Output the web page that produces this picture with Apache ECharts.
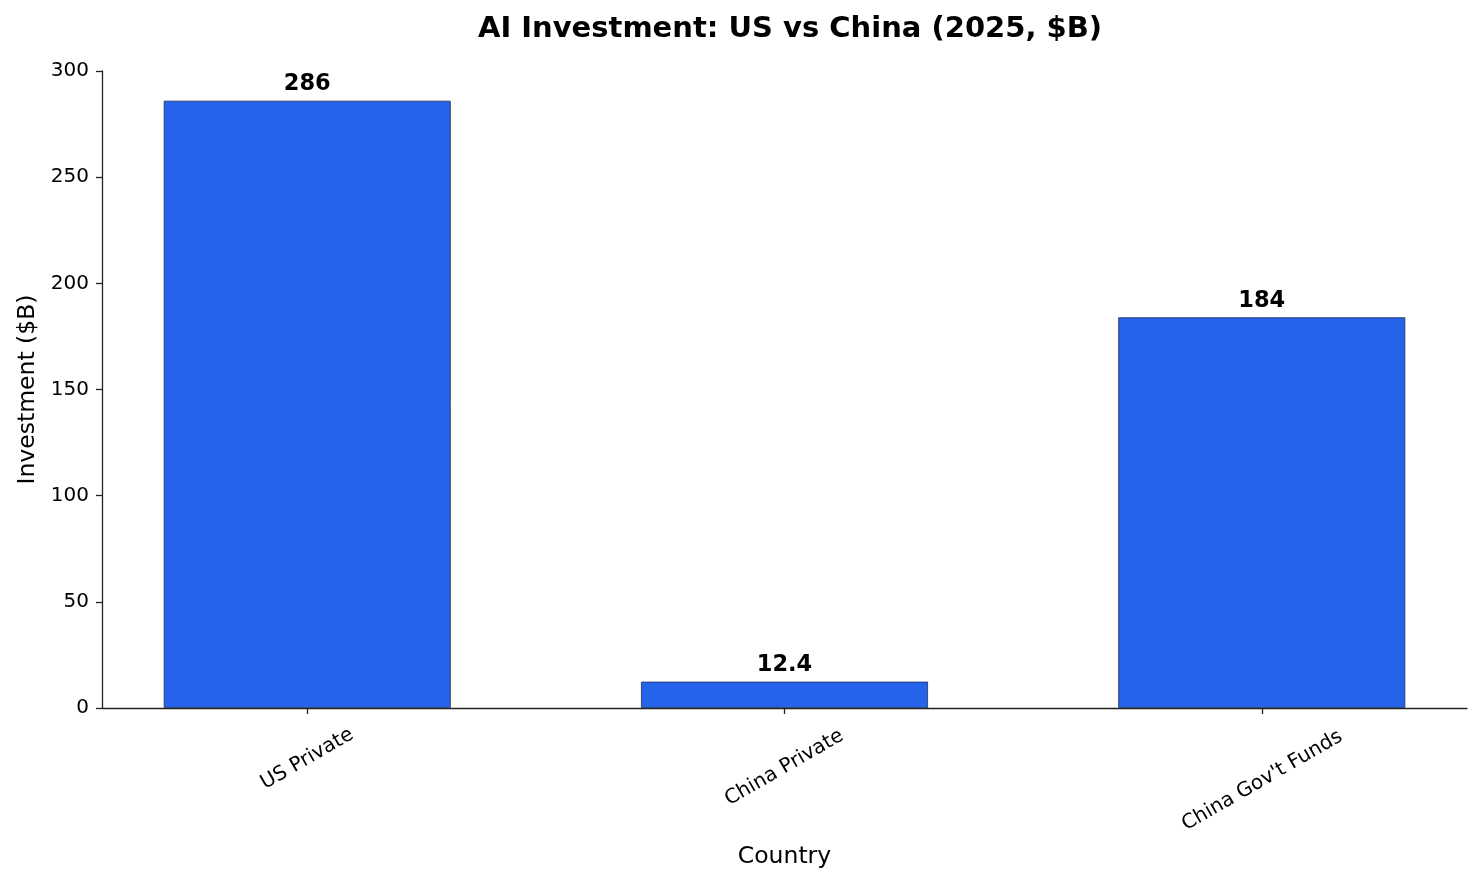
<!DOCTYPE html>
<html>
<head>
<meta charset="utf-8">
<script src="https://cdn.jsdelivr.net/npm/echarts@6/dist/echarts.min.js"></script>
<style>
  html, body { margin: 0; padding: 0; background: #ffffff; }
  #chart { width: 1483px; height: 884px; }
</style>
</head>
<body>
<div id="chart"></div>
<script>
// data
var categories = ['US Private', 'China Private', "China Gov't Funds"];
var investment = [286, 12.4, 184];
var yTicks = [0, 50, 100, 150, 200, 250, 300];

(function () {
  var FONT = '"DejaVu Sans", sans-serif';
  var INK = '#222222';

  // bars sit on a numeric x axis so their centres match the reference spacing
  var barData = investment.map(function (v, i) {
    return [i, v];
  });

  // longer rotated labels hang lower; padding pushes their centre down
  var labelRich = {
    p0: { fontFamily: FONT, fontSize: 20, color: '#000', padding: [0, 0, 0, 0] },
    p1: { fontFamily: FONT, fontSize: 20, color: '#000', padding: [15, 9, 0, 0] },
    p2: { fontFamily: FONT, fontSize: 20, color: '#000', padding: [38, 21, 0, 0] },
  };

  var chart = echarts.init(document.getElementById('chart'), null, { renderer: 'canvas' });
  var option = {
    backgroundColor: '#ffffff',
    animation: false,
    title: {
      text: 'AI Investment: US vs China (2025, $B)',
      left: 785,
      textAlign: 'center',
      top: 10,
      textStyle: {
        fontFamily: FONT,
        fontSize: 29,
        fontWeight: 'bold',
        color: '#000',
      },
    },
    grid: { left: 102, right: 16, top: 71, bottom: 176 },
    xAxis: {
      type: 'value',
      min: -0.43,
      max: 2.43,
      name: 'Country',
      nameLocation: 'middle',
      nameGap: 137,
      nameTextStyle: { fontFamily: FONT, fontSize: 23.5, color: '#000' },
      splitLine: { show: false },
      axisLine: { show: true, onZero: false, lineStyle: { color: INK, width: 1.3 } },
      axisTick: {
        show: true,
        customValues: [0, 1, 2],
        length: 6,
        lineStyle: { color: INK, width: 1.3 },
      },
      axisLabel: {
        customValues: [0, 1, 2],
        rotate: 30,
        align: 'center',
        verticalAlign: 'middle',
        margin: 51,
        fontFamily: FONT,
        fontSize: 20,
        color: '#000',
        rich: labelRich,
        formatter: function (v) {
          var i = Math.round(v);
          return '{p' + i + '|' + (categories[i] || '') + '}';
        },
      },
    },
    yAxis: {
      type: 'value',
      min: 0,
      max: 300,
      interval: 50,
      name: 'Investment ($B)',
      nameLocation: 'middle',
      nameGap: 62,
      nameTextStyle: { fontFamily: FONT, fontSize: 23.5, color: '#000' },
      splitLine: { show: false },
      axisLine: { show: true, onZero: false, lineStyle: { color: INK, width: 1.3 } },
      axisTick: { show: true, length: 6, lineStyle: { color: INK, width: 1.3 } },
      axisLabel: {
        margin: 13,
        fontFamily: FONT,
        fontSize: 20,
        color: '#000',
        formatter: function (v) {
          return yTicks.indexOf(v) >= 0 ? String(v) : '';
        },
      },
    },
    series: [
      {
        type: 'bar',
        data: barData,
        barWidth: 287,
        itemStyle: {
          color: '#2563EB',
          borderColor: '#1e2f55',
          borderWidth: 0.8,
        },
        label: {
          show: true,
          position: 'top',
          distance: 5,
          fontFamily: FONT,
          fontSize: 22.5,
          fontWeight: 'bold',
          color: '#000',
          formatter: function (p) {
            return String(p.value[1]);
          },
        },
      },
    ],
  };
  chart.setOption(option);
})();
</script>
</body>
</html>
